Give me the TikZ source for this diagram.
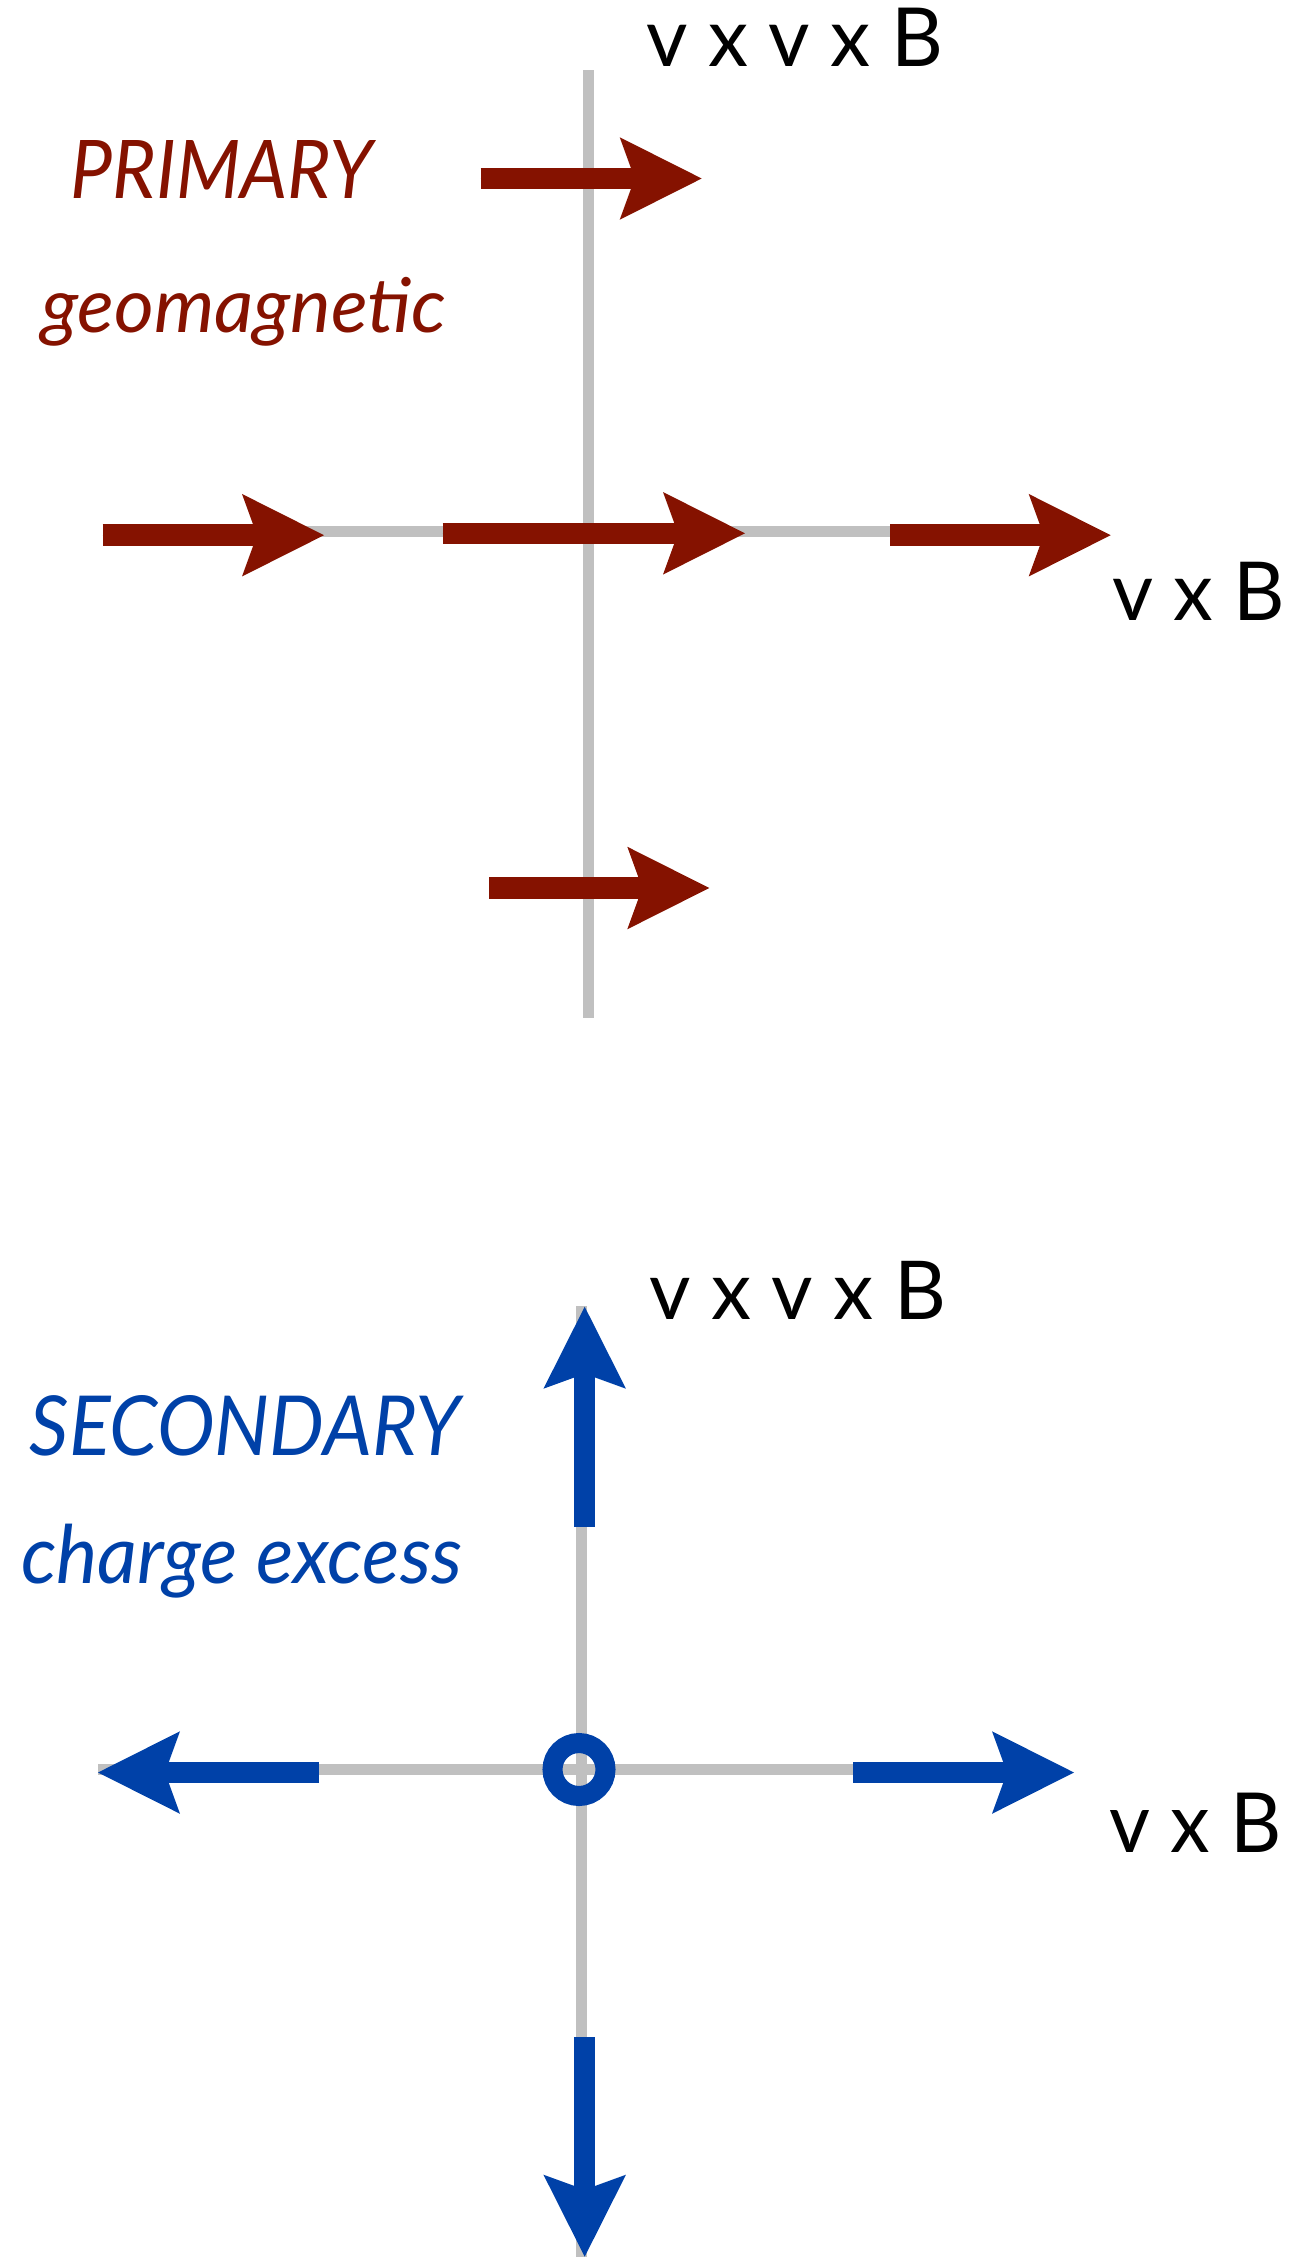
\documentclass[tikz,border=0pt]{standalone}
\usepackage{fontspec}
\setmainfont{Lato}
\usepackage{graphicx}
\usetikzlibrary{arrows.meta}
\definecolor{prim}{RGB}{133,18,0}
\definecolor{sec}{RGB}{0,65,168}
\definecolor{axisgray}{RGB}{192,192,192}
\tikzset{
  axisline/.style={draw=axisgray, line width=10.7pt},
  bigarrow/.style={line width=21.5pt, -{Stealth[length=82pt, width=82.5pt, inset=15pt, line width=0pt]}},
  redarrow/.style={bigarrow, draw=prim, fill=prim},
  bluearrow/.style={bigarrow, draw=sec, fill=sec},
  lbl/.style={anchor=base west, inner sep=0pt, outer sep=0pt}
}
\begin{document}
\begin{tikzpicture}[x=1pt, y=-1pt]
\useasboundingbox (0,0) rectangle (1292,2257);
% ---------- PRIMARY (top) ----------
\coordinate (tvtop) at (588.7,70);
\coordinate (tvbot) at (588.7,1018.3);
\coordinate (thl) at (300,531.7);
\coordinate (thr) at (900,531.7);
\draw[axisline] (tvtop) -- (tvbot);
\draw[axisline] (thl) -- (thr);

\coordinate (p1s) at (480.7,178.5);  \coordinate (p1e) at (701.7,178.5);
\coordinate (p2s) at (102.7,535.2);  \coordinate (p2e) at (324,535.2);
\coordinate (p3s) at (442.7,533.3);  \coordinate (p3e) at (745,533.3);
\coordinate (p4s) at (890,535.2);    \coordinate (p4e) at (1110.7,535.2);
\coordinate (p5s) at (489,888);      \coordinate (p5e) at (709.3,888);
\draw[redarrow] (p1s) -- (p1e);
\draw[redarrow] (p2s) -- (p2e);
\draw[redarrow] (p3s) -- (p3e);
\draw[redarrow] (p4s) -- (p4e);
\draw[redarrow] (p5s) -- (p5e);

\node[lbl] (vvbtop) at (646,66.7) {\resizebox{297pt}{58.4pt}{v x v x B}};
\node[lbl, text=prim] (primary) at (70.4,198.5) {\resizebox{302pt}{58pt}{\itshape PRIMARY}};
\node[lbl, text=prim] (geomag) at (41.4,332) {\resizebox{405pt}{55.2pt}{\itshape geomagnetic}};
\node[lbl] (vbtop) at (1112,620) {\resizebox{173pt}{58.3pt}{v x B}};

% ---------- SECONDARY (bottom) ----------
\coordinate (bvtop) at (581.7,1306);
\coordinate (bvbot) at (581.7,2257);
\coordinate (bhl) at (98,1769.7);
\coordinate (bhr) at (1000,1769.7);
\draw[axisline] (bvtop) -- (bvbot);
\draw[axisline] (bhl) -- (bhr);

\coordinate (s1s) at (584.7,1526.7); \coordinate (s1e) at (584.7,1306.7);
\coordinate (s2s) at (584.7,2037.3); \coordinate (s2e) at (584.7,2256.7);
\coordinate (s3s) at (319,1772.5);   \coordinate (s3e) at (98,1772.5);
\coordinate (s4s) at (853,1772.5);   \coordinate (s4e) at (1074,1772.5);
\draw[bluearrow] (s1s) -- (s1e);
\draw[bluearrow] (s2s) -- (s2e);
\draw[bluearrow] (s3s) -- (s3e);
\draw[bluearrow] (s4s) -- (s4e);
\node[circle, draw=sec, line width=20pt, minimum size=53pt, inner sep=0pt] (ring) at (579,1769.5) {};

\node[lbl] (vvbbot) at (649,1319.7) {\resizebox{297pt}{58.2pt}{v x v x B}};
\node[lbl, text=sec] (secondary) at (30,1455.5) {\resizebox{430pt}{60pt}{\itshape SECONDARY}};
\node[lbl, text=sec] (charge) at (21,1583) {\resizebox{441pt}{59.4pt}{\itshape charge excess}};
\node[lbl] (vbbot) at (1109.3,1852.7) {\resizebox{172.4pt}{59.4pt}{v x B}};
\end{tikzpicture}
\end{document}
